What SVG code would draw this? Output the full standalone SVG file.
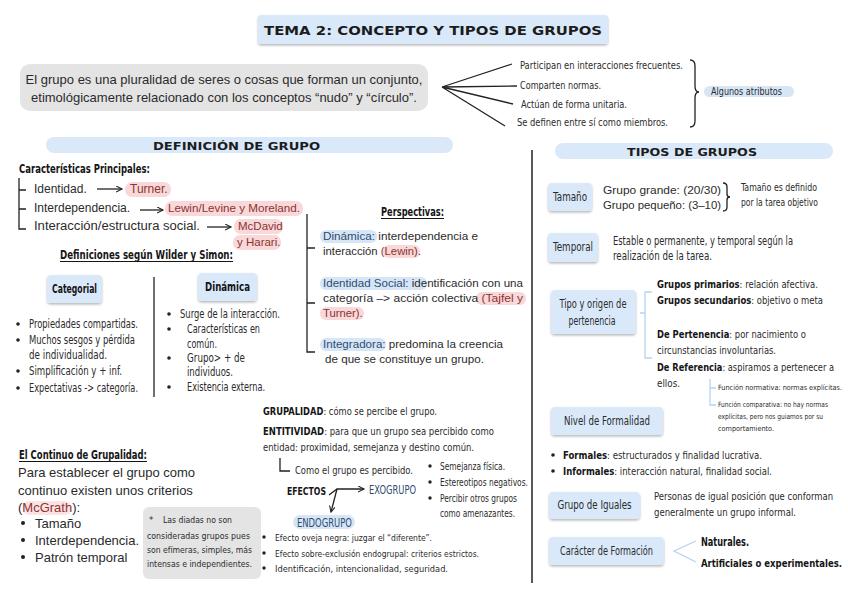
<svg xmlns="http://www.w3.org/2000/svg" width="848" height="599" viewBox="0 0 848 599">
<defs>
<filter id="sh" x="-10%" y="-20%" width="120%" height="150%"><feDropShadow dx="0" dy="1.5" stdDeviation="1.2" flood-color="#000" flood-opacity="0.28"/></filter>
<marker id="ah" markerWidth="8" markerHeight="8" refX="6" refY="3" orient="auto" markerUnits="userSpaceOnUse"><path d="M0,0 L6,3 L0,6" fill="none" stroke="#222" stroke-width="1.1"/></marker>
<style>
.t{font-family:"Liberation Sans",Arial,sans-serif;fill:#2b2b2b}
.c{font-family:"Liberation Sans Narrow","DejaVu Sans Condensed","Liberation Sans",sans-serif;fill:#2b2b2b}
.h{font-family:"DejaVu Sans",Verdana,sans-serif;font-weight:bold;fill:#1c1c1c}
.b{font-weight:bold;fill:#151515}
.box{fill:#d9e9fa;filter:url(#sh)}
.pk{fill:#f8d8d8}
.bl{fill:#d6e6f7}
.rd{fill:#8e3232}
.nv{fill:#2f4d70}
.ln{stroke:#222;stroke-width:1.3;fill:none}
.lb{stroke:#b5d4f1;stroke-width:1.3;fill:none}
.dot{fill:#222}
</style>
</defs>

<g id="title">
<rect x="258" y="15" width="350" height="29" rx="3" class="box"/>
<text x="433" y="35" class="h" font-size="13" text-anchor="middle" textLength="338" lengthAdjust="spacingAndGlyphs">TEMA 2: CONCEPTO Y TIPOS DE GRUPOS</text>
</g>

<g id="intro">
<rect x="20" y="64" width="408" height="47" rx="10" fill="#e4e4e4"/>
<text x="224" y="84" class="t" font-size="13" text-anchor="middle">El grupo es una pluralidad de seres o cosas que forman un conjunto,</text>
<text x="224" y="102" class="t" font-size="13" text-anchor="middle">etimológicamente relacionado con los conceptos “nudo” y “círculo”.</text>
</g>

<g id="connectors">
<path class="ln" stroke-width="1.6" d="M442,87 L512,64 M442,87 L517,86 M442,87 L513,104 M442,87 L505,126"/>
<path class="ln" stroke-width="1.2" d="M690,60 Q695,60 695,66 L695,86 Q695,92 699,92 Q695,92 695,98 L695,121 Q695,127 690,127"/>
<line x1="532" y1="150" x2="532" y2="583" stroke="#222" stroke-width="1.5"/>
<path class="ln" d="M19,178 L19,229 L26,229 M19,190 L26,190 M19,209 L26,209"/>
<path class="ln" marker-end="url(#ah)" d="M97,189 L122,189"/>
<path class="ln" marker-end="url(#ah)" d="M140,210 L163,210"/>
<path class="ln" marker-end="url(#ah)" d="M207,227 L231,227"/>
<line x1="154" y1="277" x2="154" y2="397" stroke="#222" stroke-width="1.3"/>
<path class="ln" d="M307,214 L307,352 L315,352 M307,248 L315,248 M307,303 L315,303"/>
<path class="ln" stroke-width="1.1" d="M723,183 Q727,183 727,187 L727,194 Q727,197 730,197 Q727,197 727,200 L727,207 Q727,211 723,211"/>
<path class="lb" d="M652,292 L645,292 L645,358 L652,358 M645,313 L640,313"/>
<path class="lb" d="M710,379 L710,405 L716,405 M710,388 L716,388"/>
<path class="lb" d="M696,541 L674,551 L696,562"/>
<path class="ln" d="M280,458 L280,471 L290,471"/>
<path class="ln" marker-end="url(#ah)" d="M329,495 L337,489 L364,489"/>
<path class="ln" marker-end="url(#ah)" d="M337,489 L331,512"/>
</g>

<g id="attributes">
<text x="520" y="69" class="c" font-size="11" textLength="163" lengthAdjust="spacingAndGlyphs">Participan en interacciones frecuentes.</text>
<text x="520" y="89" class="c" font-size="11" textLength="81" lengthAdjust="spacingAndGlyphs">Comparten normas.</text>
<text x="521" y="108" class="c" font-size="11" textLength="106" lengthAdjust="spacingAndGlyphs">Actúan de forma unitaria.</text>
<text x="517" y="126" class="c" font-size="11" textLength="151" lengthAdjust="spacingAndGlyphs">Se definen entre sí como miembros.</text>
</g>
<g id="algunos-atributos">
<rect x="704" y="86" width="90" height="11" rx="5.5" class="bl"/>
<text x="711" y="95" class="c" font-size="10" textLength="71" lengthAdjust="spacingAndGlyphs">Algunos atributos</text>
</g>

<g id="definicion-header">
<rect x="46" y="137" width="407" height="16" rx="8" fill="#d9e9fa"/>
<text x="153" y="150" class="h" font-size="10" textLength="167" lengthAdjust="spacingAndGlyphs">DEFINICIÓN DE GRUPO</text>
</g>

<g id="caracteristicas">
<text x="19" y="173" class="c b" font-size="12.5" textLength="131" lengthAdjust="spacingAndGlyphs">Características Principales:</text>
<text x="34" y="193" class="t" font-size="12">Identidad.</text>
<rect x="125" y="182" width="46" height="15" rx="7" class="pk"/>
<text x="130" y="193" class="t rd" font-size="12">Turner.</text>
<text x="34" y="212" class="t" font-size="12">Interdependencia.</text>
<rect x="165" y="201" width="138" height="15" rx="7" class="pk"/>
<text x="168" y="212" class="t rd" font-size="11.5" textLength="132" lengthAdjust="spacingAndGlyphs">Lewin/Levine y Moreland.</text>
<text x="34" y="230" class="t" font-size="12" textLength="166" lengthAdjust="spacingAndGlyphs">Interacción/estructura social.</text>
<rect x="234" y="219" width="49" height="15" rx="7" class="pk"/>
<text x="238" y="230" class="t rd" font-size="11.5">McDavid</text>
<rect x="233" y="235" width="48" height="15" rx="7" class="pk"/>
<text x="237" y="246" class="t rd" font-size="11.5">y Harari.</text>
</g>

<g id="wilder-simon">
<text x="60" y="259" class="c b" font-size="12" textLength="173" lengthAdjust="spacingAndGlyphs">Definiciones según Wilder y Simon:</text>
<line x1="60" y1="261.5" x2="233" y2="261.5" stroke="#151515" stroke-width="1"/>
</g>

<g id="categorial">
<rect x="47" y="275" width="55" height="28" rx="4" class="box"/>
<text x="74.5" y="293" class="c b" font-size="12" text-anchor="middle" textLength="45" lengthAdjust="spacingAndGlyphs">Categorial</text>
</g>
<g id="dinamica">
<rect x="198" y="273" width="59" height="28" rx="4" class="box"/>
<text x="227.5" y="291" class="c b" font-size="12" text-anchor="middle" textLength="45" lengthAdjust="spacingAndGlyphs">Dinámica</text>
</g>

<g id="categorial-list">
<circle cx="18" cy="324" r="1.8" class="dot"/>
<text x="29" y="328" class="c" font-size="11.5" textLength="109" lengthAdjust="spacingAndGlyphs">Propiedades compartidas.</text>
<circle cx="18" cy="340" r="1.8" class="dot"/>
<text x="29" y="344" class="c" font-size="11.5" textLength="106" lengthAdjust="spacingAndGlyphs">Muchos sesgos y pérdida</text>
<text x="29" y="359" class="c" font-size="11.5" textLength="78" lengthAdjust="spacingAndGlyphs">de individualidad.</text>
<circle cx="18" cy="371" r="1.8" class="dot"/>
<text x="29" y="375" class="c" font-size="11.5" textLength="93" lengthAdjust="spacingAndGlyphs">Simplificación y + inf.</text>
<circle cx="18" cy="388" r="1.8" class="dot"/>
<text x="29" y="392" class="c" font-size="11.5" textLength="109" lengthAdjust="spacingAndGlyphs">Expectativas -&gt; categoría.</text>
</g>

<g id="dinamica-list">
<circle cx="169" cy="314" r="1.8" class="dot"/>
<text x="180" y="318" class="c" font-size="11.5" textLength="100" lengthAdjust="spacingAndGlyphs">Surge de la interacción.</text>
<circle cx="169" cy="329" r="1.8" class="dot"/>
<text x="187" y="333" class="c" font-size="11.5" textLength="73" lengthAdjust="spacingAndGlyphs">Características en</text>
<text x="187" y="348" class="c" font-size="11.5" textLength="30" lengthAdjust="spacingAndGlyphs">común.</text>
<circle cx="169" cy="358" r="1.8" class="dot"/>
<text x="187" y="362" class="c" font-size="11.5" textLength="58" lengthAdjust="spacingAndGlyphs">Grupo&gt; + de</text>
<text x="187" y="376" class="c" font-size="11.5" textLength="46" lengthAdjust="spacingAndGlyphs">individuos.</text>
<circle cx="169" cy="387" r="1.8" class="dot"/>
<text x="187" y="391" class="c" font-size="11.5" textLength="78" lengthAdjust="spacingAndGlyphs">Existencia externa.</text>
</g>

<g id="perspectivas">
<text x="381" y="216" class="c b" font-size="12" textLength="63" lengthAdjust="spacingAndGlyphs">Perspectivas:</text>
<line x1="381" y1="218.5" x2="444" y2="218.5" stroke="#151515" stroke-width="1"/>
<rect x="320" y="230" width="57" height="13" rx="6" class="bl"/>
<text x="323" y="240" class="t" font-size="11.3" textLength="155" lengthAdjust="spacingAndGlyphs"><tspan class="nv">Dinámica:</tspan>  interdependencia e</text>
<rect x="383" y="245" width="37" height="13" rx="6" class="pk"/>
<text x="323" y="255" class="t" font-size="11.3" textLength="98" lengthAdjust="spacingAndGlyphs">interacción <tspan class="rd">(Lewin)</tspan>.</text>
<rect x="320" y="277" width="107" height="13" rx="6" class="bl"/>
<text x="323" y="287" class="t" font-size="11.3" textLength="200" lengthAdjust="spacingAndGlyphs"><tspan class="nv">Identidad Social:</tspan> identificación con una</text>
<rect x="476" y="292" width="50" height="13" rx="6" class="pk"/>
<text x="323" y="302" class="t" font-size="11.3" textLength="200" lengthAdjust="spacingAndGlyphs">categoría –&gt; acción colectiva <tspan class="rd">(Tajfel y</tspan></text>
<rect x="320" y="307" width="44" height="13" rx="6" class="pk"/>
<text x="323" y="317" class="t rd" font-size="11.3">Turner).</text>
<rect x="320" y="338" width="66" height="13" rx="6" class="bl"/>
<text x="323" y="348" class="t" font-size="11.3" textLength="180" lengthAdjust="spacingAndGlyphs"><tspan class="nv">Integradora:</tspan> predomina la creencia</text>
<text x="325" y="363" class="t" font-size="11.3" textLength="159" lengthAdjust="spacingAndGlyphs">de que se constituye un grupo.</text>
</g>

<g id="tipos-header">
<rect x="555" y="143" width="278" height="16" rx="8" fill="#d9e9fa"/>
<text x="627" y="155.5" class="h" font-size="10.5" textLength="130" lengthAdjust="spacingAndGlyphs">TIPOS DE GRUPOS</text>
</g>

<g id="tamano">
<rect x="548" y="183" width="44" height="28" rx="4" class="box"/>
<text x="570" y="201" class="c" font-size="11.5" text-anchor="middle" textLength="34" lengthAdjust="spacingAndGlyphs">Tamaño</text>
<text x="603" y="194" class="t" font-size="11.5" textLength="118" lengthAdjust="spacingAndGlyphs">Grupo grande: (20/30)</text>
<text x="603" y="209" class="t" font-size="11.5" textLength="118" lengthAdjust="spacingAndGlyphs">Grupo pequeño: (3–10)</text>
<text x="741" y="191" class="c" font-size="10" textLength="76" lengthAdjust="spacingAndGlyphs">Tamaño es definido</text>
<text x="741" y="206" class="c" font-size="10" textLength="77" lengthAdjust="spacingAndGlyphs">por la tarea objetivo</text>
</g>

<g id="temporal">
<rect x="548" y="233" width="50" height="29" rx="4" class="box"/>
<text x="573" y="251" class="c" font-size="11.5" text-anchor="middle" textLength="40" lengthAdjust="spacingAndGlyphs">Temporal</text>
<text x="613" y="245" class="c" font-size="11.5" textLength="180" lengthAdjust="spacingAndGlyphs">Estable o permanente, y temporal según la</text>
<text x="613" y="260" class="c" font-size="11.5" textLength="99" lengthAdjust="spacingAndGlyphs">realización de la tarea.</text>
</g>

<g id="tipo-origen">
<rect x="551" y="290" width="85" height="44" rx="4" class="box"/>
<text x="593" y="308" class="c" font-size="11.5" text-anchor="middle" textLength="67" lengthAdjust="spacingAndGlyphs">Tipo y origen de</text>
<text x="592" y="325" class="c" font-size="11.5" text-anchor="middle" textLength="47" lengthAdjust="spacingAndGlyphs">pertenencia</text>
<text x="657" y="288" class="c" font-size="11" textLength="161" lengthAdjust="spacingAndGlyphs"><tspan class="b">Grupos primarios</tspan>: relación afectiva.</text>
<text x="657" y="304" class="c" font-size="11" textLength="166" lengthAdjust="spacingAndGlyphs"><tspan class="b">Grupos secundarios</tspan>: objetivo o meta</text>
<text x="657" y="338" class="c" font-size="11" textLength="149" lengthAdjust="spacingAndGlyphs"><tspan class="b">De Pertenencia</tspan>:  por nacimiento o</text>
<text x="657" y="354" class="c" font-size="11" textLength="119" lengthAdjust="spacingAndGlyphs">circunstancias involuntarias.</text>
<text x="657" y="371" class="c" font-size="9.8" textLength="177" lengthAdjust="spacingAndGlyphs"><tspan class="b">De Referencia</tspan>: aspiramos a pertenecer a</text>
<text x="657" y="387" class="c" font-size="11" textLength="23" lengthAdjust="spacingAndGlyphs">ellos.</text>
<text x="718" y="390" class="c" font-size="7.3" textLength="124" lengthAdjust="spacingAndGlyphs">Función normativa: normas explícitas.</text>
<text x="718" y="407" class="c" font-size="7.3" textLength="110" lengthAdjust="spacingAndGlyphs">Función comparativa: no hay normas</text>
<text x="718" y="419" class="c" font-size="7.3" textLength="105" lengthAdjust="spacingAndGlyphs">explícitas, pero nos guiamos por su</text>
<text x="718" y="431" class="c" font-size="7.3" textLength="56" lengthAdjust="spacingAndGlyphs">comportamiento.</text>
</g>

<g id="formalidad">
<rect x="551" y="407" width="112" height="28" rx="4" class="box"/>
<text x="607" y="425" class="c" font-size="11.5" text-anchor="middle" textLength="86" lengthAdjust="spacingAndGlyphs">Nivel de Formalidad</text>
<circle cx="553" cy="455" r="1.8" class="dot"/>
<text x="563" y="459" class="c" font-size="11" textLength="199" lengthAdjust="spacingAndGlyphs"><tspan class="b">Formales</tspan>: estructurados y finalidad lucrativa.</text>
<circle cx="553" cy="471" r="1.8" class="dot"/>
<text x="563" y="475" class="c" font-size="11" textLength="209" lengthAdjust="spacingAndGlyphs"><tspan class="b">Informales</tspan>: interacción natural, finalidad social.</text>
</g>

<g id="iguales">
<rect x="549" y="492" width="91" height="27" rx="4" class="box"/>
<text x="594.5" y="509" class="c" font-size="11.5" text-anchor="middle" textLength="74" lengthAdjust="spacingAndGlyphs">Grupo de Iguales</text>
<text x="654" y="500" class="c" font-size="10" textLength="179" lengthAdjust="spacingAndGlyphs">Personas de igual posición que conforman</text>
<text x="654" y="516" class="c" font-size="10.5" textLength="142" lengthAdjust="spacingAndGlyphs">generalmente un grupo informal.</text>
</g>

<g id="formacion">
<rect x="549" y="537" width="115" height="28" rx="4" class="box"/>
<text x="606.5" y="555" class="c" font-size="11.5" text-anchor="middle" textLength="93" lengthAdjust="spacingAndGlyphs">Carácter de Formación</text>
<text x="701" y="546" class="c b" font-size="11.5" textLength="48" lengthAdjust="spacingAndGlyphs">Naturales.</text>
<text x="701" y="567" class="c b" font-size="10.2" textLength="141" lengthAdjust="spacingAndGlyphs">Artificiales o experimentales.</text>
</g>

<g id="continuo">
<text x="19" y="459" class="c b" font-size="12" textLength="128" lengthAdjust="spacingAndGlyphs">El Continuo de Grupalidad:</text>
<line x1="19" y1="461.5" x2="147" y2="461.5" stroke="#151515" stroke-width="1"/>
<text x="18" y="477" class="t" font-size="13">Para establecer el grupo como</text>
<text x="18" y="495" class="t" font-size="13">continuo existen unos criterios</text>
<rect x="23" y="501" width="48" height="14" rx="6" fill="#fbe3e3"/>
<text x="18" y="512" class="t" font-size="13">(<tspan class="rd">McGrath</tspan>):</text>
<circle cx="23" cy="523" r="2" class="dot"/>
<text x="35" y="528" class="t" font-size="13">Tamaño</text>
<circle cx="23" cy="540" r="2" class="dot"/>
<text x="35" y="545" class="t" font-size="13">Interdependencia.</text>
<circle cx="23" cy="557" r="2" class="dot"/>
<text x="35" y="562" class="t" font-size="13">Patrón temporal</text>
</g>

<g id="nota-diadas">
<rect x="143" y="507" width="118" height="72" rx="6" fill="#e4e4e4"/>
<text x="149" y="523" class="c" font-size="9.5">*</text>
<text x="163" y="523" class="c" font-size="9.5" textLength="69" lengthAdjust="spacingAndGlyphs">Las diadas no son</text>
<text x="147" y="539" class="c" font-size="9.5" textLength="103" lengthAdjust="spacingAndGlyphs">consideradas grupos pues</text>
<text x="147" y="553" class="c" font-size="9.5" textLength="105" lengthAdjust="spacingAndGlyphs">son efímeras, simples, más</text>
<text x="147" y="567" class="c" font-size="9.5" textLength="105" lengthAdjust="spacingAndGlyphs">intensas e independientes.</text>
</g>

<g id="grupalidad">
<text x="263" y="415" class="c" font-size="11" textLength="174" lengthAdjust="spacingAndGlyphs"><tspan class="b">GRUPALIDAD</tspan>: cómo se percibe el grupo.</text>
<text x="263" y="435" class="c" font-size="11" textLength="231" lengthAdjust="spacingAndGlyphs"><tspan class="b">ENTITIVIDAD</tspan>:  para que un grupo sea percibido como</text>
<text x="263" y="451" class="c" font-size="11" textLength="211" lengthAdjust="spacingAndGlyphs">entidad: proximidad, semejanza y destino común.</text>
<text x="295" y="474" class="c" font-size="11" textLength="118" lengthAdjust="spacingAndGlyphs">Como el grupo es percibido.</text>
<circle cx="430" cy="466" r="1.7" class="dot"/>
<text x="440" y="470" class="c" font-size="10" textLength="65" lengthAdjust="spacingAndGlyphs">Semejanza física.</text>
<circle cx="430" cy="482" r="1.7" class="dot"/>
<text x="440" y="486" class="c" font-size="10" textLength="88" lengthAdjust="spacingAndGlyphs">Estereotipos negativos.</text>
<circle cx="430" cy="498" r="1.7" class="dot"/>
<text x="440" y="502" class="c" font-size="10" textLength="77" lengthAdjust="spacingAndGlyphs">Percibir otros grupos</text>
<text x="440" y="517" class="c" font-size="10" textLength="75" lengthAdjust="spacingAndGlyphs">como amenazantes.</text>
</g>

<g id="efectos">
<text x="287" y="495" class="c b" font-size="11" textLength="39" lengthAdjust="spacingAndGlyphs">EFECTOS</text>
</g>
<g id="exogrupo">
<text x="369" y="494" class="c nv" font-size="11.5" textLength="47" lengthAdjust="spacingAndGlyphs">EXOGRUPO</text>
</g>
<g id="endogrupo">
<rect x="293" y="515" width="62" height="14" rx="7" class="bl"/>
<text x="297" y="526.5" class="c nv" font-size="11.5" textLength="55" lengthAdjust="spacingAndGlyphs">ENDOGRUPO</text>
<circle cx="264" cy="537" r="1.7" class="dot"/>
<text x="275" y="541" class="c" font-size="9.5" textLength="157" lengthAdjust="spacingAndGlyphs">Efecto oveja negra: juzgar el “diferente”.</text>
<circle cx="264" cy="553" r="1.7" class="dot"/>
<text x="275" y="557" class="c" font-size="9.5" textLength="204" lengthAdjust="spacingAndGlyphs">Efecto sobre-exclusión endogrupal: criterios estrictos.</text>
<circle cx="264" cy="568" r="1.7" class="dot"/>
<text x="275" y="572" class="c" font-size="9.5" textLength="173" lengthAdjust="spacingAndGlyphs">Identificación, intencionalidad, seguridad.</text>
</g>
</svg>
